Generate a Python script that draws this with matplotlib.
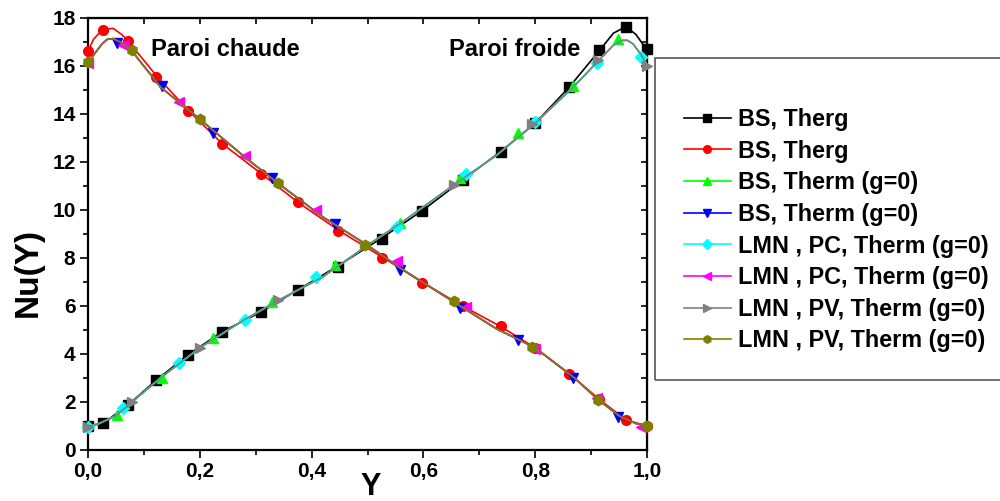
import matplotlib
matplotlib.use("Agg")
import matplotlib.pyplot as plt
from matplotlib.lines import Line2D
from matplotlib.patches import Rectangle
from matplotlib.ticker import MultipleLocator, FixedFormatter, FixedLocator

plt.rcParams['font.family'] = ['Liberation Sans', 'DejaVu Sans']
plt.rcParams['font.weight'] = 'bold'

# courbes (traits lisses)
y_black_line = [0, 0.027, 0.072, 0.122, 0.179, 0.24, 0.31, 0.376, 0.448, 0.526, 0.598,
                0.671, 0.738, 0.80, 0.86, 0.915, 0.94, 0.962, 0.98, 1.0]
nu_black_line = [1.0, 1.1, 1.88, 2.9, 3.96, 4.92, 5.75, 6.67, 7.67, 8.83, 9.96,
                 11.25, 12.42, 13.6, 15.08, 16.63, 17.35, 17.62, 17.3, 16.65]

y_red_line = [0, 0.01, 0.026, 0.045, 0.06, 0.071, 0.09, 0.124, 0.181, 0.24, 0.31, 0.376,
              0.451, 0.529, 0.60, 0.671, 0.738, 0.80, 0.861, 0.915, 0.962, 1.0]
nu_red_line = [16.6, 17.1, 17.5, 17.55, 17.3, 17.04, 16.5, 15.53, 14.1, 12.75, 11.5, 10.3,
               9.1, 7.99, 6.95, 5.98, 5.14, 4.25, 3.17, 2.1, 1.25, 1.0]

y_rise_line = [0, 0.02, 0.05, 0.078, 0.13, 0.2, 0.28, 0.34, 0.42, 0.5, 0.56, 0.655,
               0.73, 0.8, 0.87, 0.913, 0.94, 0.955, 0.965, 0.975, 0.988, 1.0]
nu_rise_line = [0.97, 1.1, 1.42, 1.98, 3.0, 4.25, 5.42, 6.22, 7.2, 8.52, 9.45, 11.04,
                12.25, 13.6, 15.15, 16.2, 16.85, 17.05, 17.05, 16.9, 16.5, 16.05]

y_fall_line = [0, 0.012, 0.025, 0.035, 0.045, 0.06, 0.078, 0.13, 0.2, 0.28, 0.34, 0.42,
               0.5, 0.56, 0.655, 0.73, 0.8, 0.87, 0.913, 0.95, 0.98, 1.0]
nu_fall_line = [16.1, 16.5, 16.9, 17.1, 17.12, 16.95, 16.62, 15.1, 13.77, 12.2, 11.1, 9.7,
                8.52, 7.55, 6.15, 5.05, 4.25, 3.0, 2.08, 1.42, 1.1, 1.0]

# points (symboles)
y_bs_therg = [0, 0.027, 0.072, 0.122, 0.179, 0.24, 0.31, 0.376, 0.448, 0.526, 0.598,
              0.671, 0.738, 0.80, 0.86, 0.915, 0.962, 1.0]
nu_bs_therg_1 = [1.0, 1.1, 1.88, 2.9, 3.96, 4.92, 5.75, 6.67, 7.62, 8.8, 9.96,
                 11.25, 12.42, 13.6, 15.1, 16.63, 17.62, 16.67]
nu_bs_therg_2 = [16.6, 17.5, 17.04, 15.53, 14.1, 12.75, 11.5, 10.3, 9.1, 7.99, 6.95,
                 5.98, 5.14, 4.25, 3.17, 2.1, 1.25, 1.0]

y_bs_therm = [0.051, 0.132, 0.224, 0.329, 0.442, 0.558, 0.665, 0.77, 0.867, 0.949]
nu_bs_therm_1 = [1.45, 3.0, 4.65, 6.15, 7.7, 9.45, 11.3, 13.2, 15.17, 17.1]
nu_bs_therm_2 = [16.95, 15.15, 13.2, 11.3, 9.4, 7.5, 5.9, 4.58, 3.0, 1.38]

y_lmn_pc = [0, 0.062, 0.163, 0.28, 0.408, 0.552, 0.676, 0.80, 0.911, 0.99]
nu_lmn_pc_1 = [0.97, 1.75, 3.62, 5.42, 7.18, 9.3, 11.5, 13.67, 16.1, 16.35]
nu_lmn_pc_2 = [16.1, 16.87, 14.49, 12.22, 9.97, 7.85, 5.93, 4.2, 2.15, 0.97]

y_lmn_pv = [0, 0.078, 0.2, 0.34, 0.496, 0.654, 0.795, 0.913, 1.0]
nu_lmn_pv_1 = [0.96, 2.0, 4.25, 6.25, 8.52, 11.04, 13.55, 16.25, 16.0]
nu_lmn_pv_2 = [16.15, 16.64, 13.77, 11.1, 8.54, 6.2, 4.28, 2.08, 1.0]

labels = ['BS, Therg', 'BS, Therg', 'BS, Therm (g=0)', 'BS, Therm (g=0)',
          'LMN , PC, Therm (g=0)', 'LMN , PC, Therm (g=0)',
          'LMN , PV, Therm (g=0)', 'LMN , PV, Therm (g=0)']
colors = ['black', '#ff0000', '#00ff00', '#0000ff', '#00ffff', '#ff00ff', '#808080', '#808000']
markers = ['s', 'o', '^', 'v', 'D', '<', '>', 'h']
msizes = [6.5, 7, 7.5, 7.5, 6, 7.5, 7.5, 7.5]

series = [
    (y_black_line, nu_black_line, y_bs_therg, nu_bs_therg_1),
    (y_red_line, nu_red_line, y_bs_therg, nu_bs_therg_2),
    (y_rise_line, nu_rise_line, y_bs_therm, nu_bs_therm_1),
    (y_fall_line, nu_fall_line, y_bs_therm, nu_bs_therm_2),
    (y_rise_line, nu_rise_line, y_lmn_pc, nu_lmn_pc_1),
    (y_fall_line, nu_fall_line, y_lmn_pc, nu_lmn_pc_2),
    (y_rise_line, nu_rise_line, y_lmn_pv, nu_lmn_pv_1),
    (y_fall_line, nu_fall_line, y_lmn_pv, nu_lmn_pv_2),
]

fig = plt.figure(figsize=(10, 5.01), dpi=100)
ax = fig.add_axes([0.088, 0.102, 0.559, 0.863])

handles = []
for i, (yl, nl, ym, nm) in enumerate(series):
    ax.plot(yl, nl, '-', color=colors[i], lw=1.2, zorder=2 + i)
    ax.plot(ym, nm, linestyle='none', marker=markers[i], color=colors[i],
            ms=msizes[i], mec=colors[i], zorder=2 + i, clip_on=False)
    handles.append(Line2D([], [], color=colors[i], lw=1.2, marker=markers[i], ms=5.5))

ax.set_xlim(0, 1)
ax.set_ylim(0, 18)
ax.xaxis.set_major_locator(FixedLocator([0, 0.2, 0.4, 0.6, 0.8, 1.0]))
ax.xaxis.set_major_formatter(FixedFormatter(['0,0', '0,2', '0,4', '0,6', '0,8', '1,0']))
ax.xaxis.set_minor_locator(MultipleLocator(0.1))
ax.yaxis.set_major_locator(MultipleLocator(2))
ax.yaxis.set_minor_locator(MultipleLocator(1))
ax.tick_params(which='major', direction='out', length=6, width=1.2, labelsize=15, pad=3)
ax.tick_params(which='minor', direction='out', length=3.5, width=1.2)
for sp in ax.spines.values():
    sp.set_linewidth(1.6)
for lab in ax.get_xticklabels() + ax.get_yticklabels():
    lab.set_fontweight('bold')

top = ax.secondary_xaxis('top')
top.xaxis.set_major_locator(MultipleLocator(0.1))
top.tick_params(direction='in', length=4.5, width=1.2, labeltop=False)
right = ax.secondary_yaxis('right')
right.yaxis.set_major_locator(MultipleLocator(1))
right.tick_params(direction='in', length=4.5, width=1.2, labelright=False)

ax.set_xlabel('Y', fontsize=22, fontweight='bold')
ax.xaxis.set_label_coords(0.505, -0.05, transform=ax.transAxes)
ax.xaxis.label.set_va('top')
ax.set_ylabel('Nu(Y)', fontsize=24, fontweight='bold')
ax.yaxis.set_label_coords(-0.08, 0.41)

ax.text(0.112, 16.65, 'Paroi chaude', fontsize=17, fontweight='bold', va='center')
ax.text(0.645, 16.65, 'Paroi froide', fontsize=17, fontweight='bold', va='center')

fig.patches.append(Rectangle((0.655, 1 - 380 / 501), 0.36, (380 - 58) / 501,
                             transform=fig.transFigure, fill=False,
                             edgecolor='#555555', lw=1.2))
leg = fig.legend(handles, labels, loc='upper left', bbox_to_anchor=(0.684, 1 - 108 / 501),
                 frameon=False, fontsize=16.8, handlelength=2.0, handletextpad=0.3,
                 labelspacing=0.37, borderpad=0, borderaxespad=0)
for t in leg.get_texts():
    t.set_fontweight('bold')

fig.savefig('out.png', dpi=100)
